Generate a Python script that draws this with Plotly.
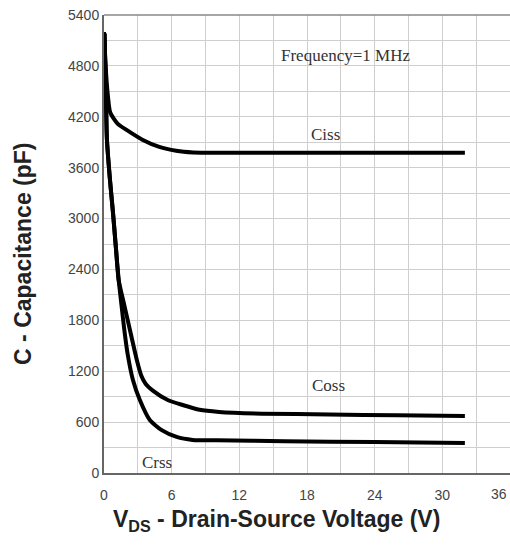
import plotly.graph_objects as go

# Drain-source voltage (V) and capacitance (pF) for each curve
v_ciss = [0.0, 0.12, 0.35, 0.55, 1.2, 2.0, 3.4, 4.9, 6.4, 7.9, 10.0, 15.0, 20.0, 26.0, 32.0]
c_ciss = [5200, 4850, 4440, 4250, 4120, 4045, 3930, 3845, 3800, 3780, 3775, 3775, 3775, 3775, 3775]

v_coss = [0.05, 0.15, 0.26, 0.53, 0.8, 1.05, 1.3, 1.8, 2.3, 2.91, 3.3, 3.7, 4.3, 5.65, 6.97, 8.47, 10.2, 14.0, 20.0, 26.0, 32.0]
c_coss = [5180, 4600, 3930, 3455, 3066, 2665, 2276, 1980, 1686, 1333, 1150, 1050, 975, 861, 802, 745, 720, 700, 690, 680, 672]

v_crss = [0.05, 0.15, 0.26, 0.53, 0.8, 1.05, 1.3, 1.55, 1.8, 2.1, 2.56, 3.18, 4.06, 5.12, 6.44, 7.86, 10.0, 16.0, 24.0, 32.0]
c_crss = [5180, 4600, 3930, 3455, 3066, 2665, 2276, 1980, 1690, 1400, 1100, 860, 625, 505, 425, 390, 385, 375, 365, 355]

x_ticks = [0, 6, 12, 18, 24, 30, 36]
y_ticks = [0, 600, 1200, 1800, 2400, 3000, 3600, 4200, 4800, 5400]

# Curve name labels: (text, V, C)
curve_labels = [("Ciss", 19.6, 3990), ("Coss", 19.9, 1030), ("Crss", 4.7, 118)]

fig = go.Figure()
for vx, cy in [(v_ciss, c_ciss), (v_coss, c_coss), (v_crss, c_crss)]:
    fig.add_trace(go.Scatter(
        x=vx, y=cy, mode="lines",
        line=dict(color="black", width=4, shape="spline", smoothing=0.6),
        hoverinfo="skip", showlegend=False,
    ))

serif = dict(family="Liberation Serif, Times New Roman, serif", size=17, color="#333")
for text, vx, cy in curve_labels:
    fig.add_annotation(x=vx, y=cy, text=text, showarrow=False, font=serif)
fig.add_annotation(x=21.4, y=4917, text="Frequency=1 MHz", showarrow=False, font=serif)

title_font = dict(family="Liberation Sans, Arial, sans-serif", size=23, color="#222")
fig.add_annotation(xref="paper", yref="paper", x=-0.2, y=0.478, xanchor="center", yanchor="middle",
                   text="<b>C - Capacitance (pF)</b>", textangle=-90, showarrow=False, font=title_font)
fig.add_annotation(xref="paper", yref="paper", x=0.426, y=-0.103, xanchor="center", yanchor="middle",
                   text="<b>V<sub>DS</sub> - Drain-Source Voltage (V)</b>", showarrow=False, font=title_font)

tick_font = dict(family="Liberation Sans, Arial, sans-serif", size=14, color="#444")

# the last x tick sits on the right edge: draw its label right-aligned so it stays on the page
edge_tick = x_ticks[-1]
fig.add_annotation(x=edge_tick, xref="x", yref="paper", y=-0.046, xanchor="right", yanchor="middle",
                   xshift=-1, text=str(edge_tick), showarrow=False, font=tick_font)

# top frame edge
fig.add_shape(type="line", xref="paper", yref="paper", x0=0, x1=1, y0=1, y1=1,
              line=dict(color="#888", width=1.5))

fig.update_xaxes(
    range=[0, 36], tickvals=x_ticks[:-1], ticktext=[str(t) for t in x_ticks[:-1]],
    showgrid=True, gridcolor="#cfcfcf", gridwidth=1,
    minor=dict(dtick=3, tick0=0, showgrid=True, gridcolor="#cfcfcf", gridwidth=1),
    showline=True, linecolor="#666", linewidth=2,
    ticks="outside", ticklen=8, tickcolor="rgba(0,0,0,0)",
    tickfont=tick_font, zeroline=False, automargin=False,
)
fig.update_yaxes(
    range=[0, 5400], tickvals=y_ticks, ticktext=[str(t) for t in y_ticks],
    showgrid=True, gridcolor="#cfcfcf", gridwidth=1,
    minor=dict(dtick=300, tick0=0, showgrid=True, gridcolor="#cfcfcf", gridwidth=1),
    showline=True, linecolor="#666", linewidth=2,
    ticks="", tickfont=tick_font, zeroline=False, automargin=False,
)
fig.update_layout(
    width=510, height=560,
    margin=dict(l=104, r=0, t=15, b=87),
    paper_bgcolor="white", plot_bgcolor="white",
)
fig.write_html("out.html")
